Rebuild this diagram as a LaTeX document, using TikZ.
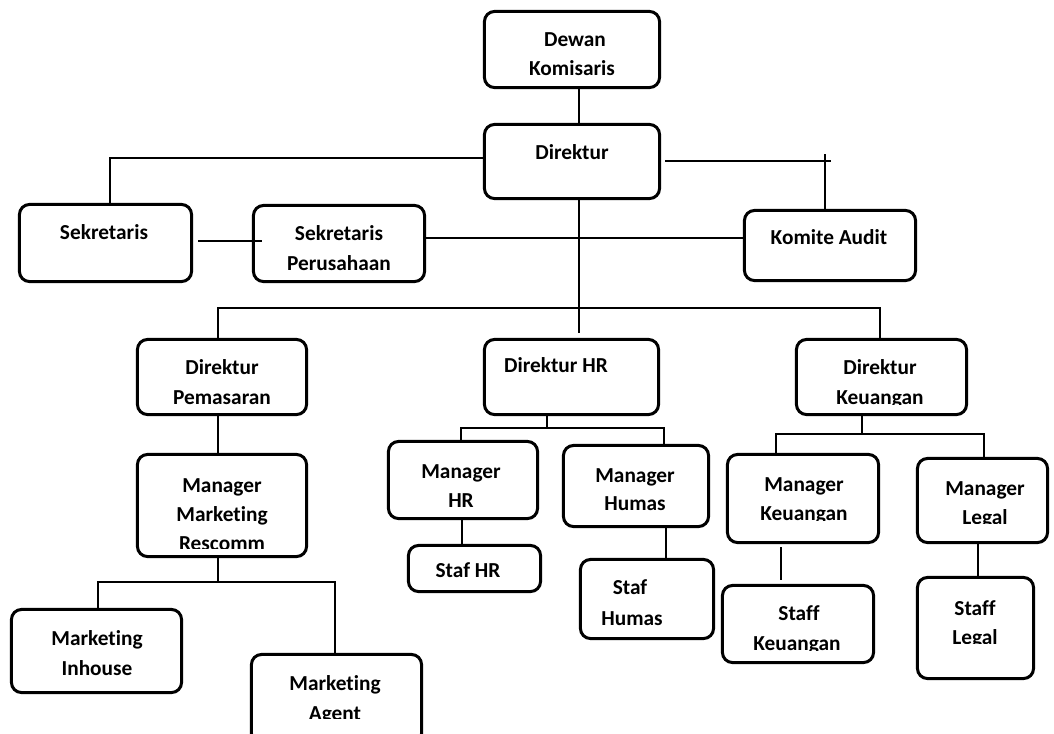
\documentclass[tikz,border=0pt]{standalone}
\usepackage{fontspec}
\setmainfont{Carlito}[Ligatures=NoCommon]
\usetikzlibrary{fit,calc}
\begin{document}
\begin{tikzpicture}[x=0.75pt,y=-0.75pt,
  box/.style={draw, line width=2.25pt, rounded corners=7.5pt, inner sep=-1.1pt},
  conn/.style={line width=1.2pt},
  thinconn/.style={line width=0.9pt},
  txt/.style={font=\fontsize{16pt}{22pt}\selectfont\bfseries, anchor=base, inner sep=0pt}]
\clip (0,0) rectangle (1054,733);
\fill[white] (0,0) rectangle (1054,733);

% boxes
\node[box, fit={(483,10) (661,89)}] (dk) {};
\node[box, fit={(483,123) (661,200)}] (dir) {};
\node[box, fit={(18,203) (193,283)}] (sek) {};
\node[box, fit={(252,204) (426,283)}] (sp) {};
\node[box, fit={(743,209) (917,282)}] (ka) {};
\node[box, fit={(136,338) (308,416)}] (dp) {};
\node[box, fit={(483,338) (660,416)}] (dhr) {};
\node[box, fit={(795,338) (968,416)}] (dkeu) {};
\node[box, fit={(136,453) (308,558)}] (mmr) {};
\node[box, fit={(10,608) (183,694)}] (mi) {};
\node[box, fit={(250,653) (423,745)}] (ma) {};
\node[box, fit={(387,440) (539,520)}] (mhr) {};
\node[box, fit={(407,544) (542,593)}] (shr) {};
\node[box, fit={(562,444) (710,528)}] (mhu) {};
\node[box, fit={(579,558) (715,640)}] (shu) {};
\node[box, fit={(726,453) (880,544)}] (mk) {};
\node[box, fit={(721,584) (875,664)}] (sk) {};
\node[box, fit={(916,457) (1049,544)}] (ml) {};
\node[box, fit={(916,576) (1035,680)}] (sl) {};

% texts
\node[txt] (tdk1) at (575,46) {Dewan};
\node[txt] (tdk2) at (572,75) {Komisaris};
\node[txt] (tdir) at (572,159) {Direktur};
\node[txt] (tsek) at (104,239) {Sekretaris};
\node[txt] (tsp1) at (339,240) {Sekretaris};
\node[txt] (tsp2) at (339,270) {Perusahaan};
\node[txt] (tka) at (829,244) {Komite Audit};
\node[txt] (tdp1) at (222,374) {Direktur};
\node[txt] (tdp2) at (222,404) {Pemasaran};
\node[txt] (tdhr) at (556,372) {Direktur HR};
\node[txt] (tdk1b) at (880,374) {Direktur};
\begin{scope}\clip (795,380) rectangle (968,404);
\node[txt] (tdk2b) at (880,404) {Keuangan};
\end{scope}
\node[txt] (tmmr1) at (222,492) {Manager};
\node[txt] (tmmr2) at (222,521) {Marketing};
\begin{scope}\clip (136,525) rectangle (308,548);
\node[txt] (tmmr3) at (222,550) {Rescomm};
\end{scope}
\node[txt] (tmi1) at (97,645) {Marketing};
\node[txt] (tmi2) at (97,675) {Inhouse};
\node[txt] (tma1) at (335,690) {Marketing};
\begin{scope}\clip (250,695) rectangle (423,718);
\node[txt] (tma2) at (335,720) {Agent};
\end{scope}
\node[txt] (tmhr1) at (461,478) {Manager};
\node[txt] (tmhr2) at (461,507) {HR};
\node[txt] (tshr) at (468,577) {Staf HR};
\node[txt] (tmhu1) at (635,482) {Manager};
\node[txt] (tmhu2) at (635,510) {Humas};
\node[txt] (tshu1) at (630,594) {Staf};
\node[txt] (tshu2) at (632,625) {Humas};
\node[txt] (tmk1) at (804,491) {Manager};
\begin{scope}\clip (726,496) rectangle (880,520);
\node[txt] (tmk2) at (804,520) {Keuangan};
\end{scope}
\node[txt] (tsk1) at (799,620) {Staff};
\begin{scope}\clip (721,626) rectangle (875,650);
\node[txt] (tsk2) at (797,650) {Keuangan};
\end{scope}
\node[txt] (tml1) at (985,495) {Manager};
\begin{scope}\clip (916,500) rectangle (1049,523);
\node[txt] (tml2) at (985,524) {Legal};
\end{scope}
\node[txt] (tsl1) at (975,615) {Staff};
\begin{scope}\clip (916,620) rectangle (1035,643);
\node[txt] (tsl2) at (975,644) {Legal};
\end{scope}

% connectors
\coordinate (kaTick) at (831,161);
\coordinate (kaTop) at (825,154);
\coordinate (dirBus) at (579,333);
\draw[conn] (579,0 |- dk.south) -- (579,0 |- dir.north);
\draw[conn] (dir.west |- 0,158) -| (110,0 |- sek.north);
\draw[thinconn] ($(sek.east |- 0,241)+(5,0)$) -- ($(sp.west |- 0,241)+(10,0)$);
\draw[conn] (sp.east |- 0,238) -- (ka.west |- 0,238);
\draw[conn] ($(dir.east |- 0,161)+(4,0)$) -- (kaTick);
\draw[conn] (kaTop) -- (kaTop |- ka.north);
\draw[conn] (579,0 |- dir.south) -- (dirBus);
\draw[conn] (218,0 |- dp.north) -- (218,308) -- (880,308) -- (880,0 |- dkeu.north);
\draw[conn] (218,0 |- dp.south) -- (218,0 |- mmr.north);
\draw[line width=1.8pt] (218,0 |- mmr.south) -- (218,583);
\draw[conn] (98,0 |- mi.north) -- (98,582) -- (335,582) -- (335,0 |- ma.north);
\draw[conn] (547,0 |- dhr.south) -- (547,428);
\draw[conn] (461,0 |- mhr.north) -- (461,428) -- (664,428) -- (664,0 |- mhu.north);
\draw[conn] (462,0 |- mhr.south) -- (462,0 |- shr.north);
\draw[conn] (666,0 |- mhu.south) -- (666,0 |- shu.north);
\draw[conn] (862,0 |- dkeu.south) -- (862,434);
\draw[conn] (776,0 |- mk.north) -- (776,434) -- (984,434) -- (984,0 |- ml.north);
\draw[conn] ($(781,0 |- mk.south)+(0,3)$) -- ($(781,0 |- sk.north)+(0,-4)$);
\draw[conn] (978,0 |- ml.south) -- (978,0 |- sl.north);
\end{tikzpicture}
\end{document}
